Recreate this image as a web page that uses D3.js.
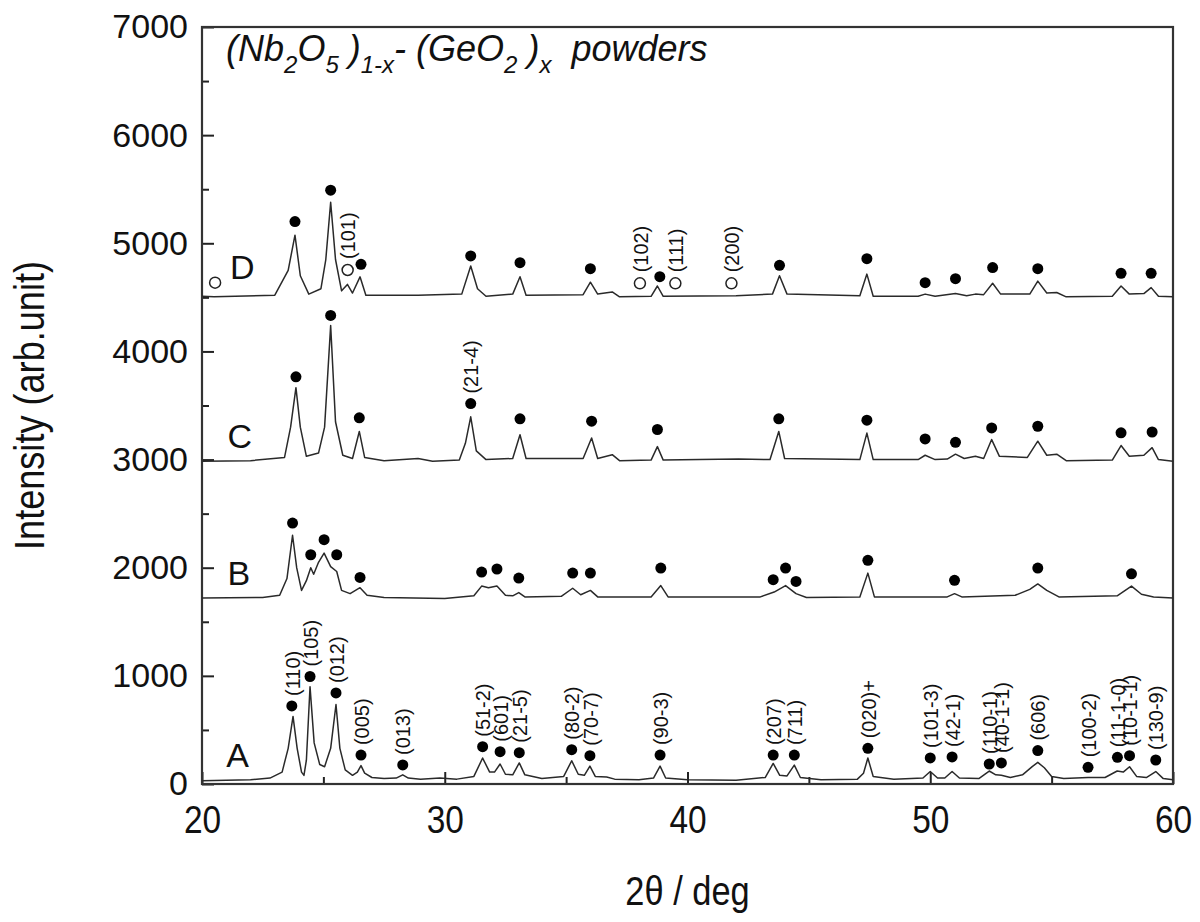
<!DOCTYPE html>
<html>
<head>
<meta charset="utf-8">
<script src="https://cdn.jsdelivr.net/npm/d3@7"></script>
<style>
  body { margin: 0; background: #fff; }
  text { font-family: "Liberation Sans", Arial, sans-serif; fill: #111; }
</style>
</head>
<body>
<div id="chart"></div>
<script>
// XRD traces, [2theta, intensity]
var traceA = [[20,30],[21,35],[22,40],[22.8,55],[23.3,110],[23.55,330],[23.75,625],[23.92,330],[24.1,110],[24.2,80],[24.3,220],[24.45,900],[24.62,380],[24.85,180],[25.05,160],[25.3,330],[25.52,735],[25.68,330],[25.9,130],[26.2,80],[26.4,110],[26.55,170],[26.7,100],[27,60],[27.5,50],[28,55],[28.27,85],[28.5,55],[29,45],[29.8,55],[30.5,45],[31.2,70],[31.56,240],[31.85,110],[32.05,110],[32.28,185],[32.5,90],[32.8,85],[33.07,195],[33.3,85],[34,50],[34.9,70],[35.23,215],[35.5,90],[35.75,80],[35.98,165],[36.2,70],[36.67,65],[37,45],[38,40],[38.6,55],[38.87,165],[39.1,55],[40,40],[42,35],[43.2,60],[43.53,190],[43.8,80],[44.1,75],[44.4,175],[44.65,60],[45.5,40],[47,45],[47.25,100],[47.43,240],[47.65,70],[48.5,45],[49.7,55],[50,115],[50.3,55],[50.6,55],[50.9,115],[51.2,55],[52,50],[52.43,120],[52.7,85],[52.93,80],[53.3,60],[53.8,85],[54.2,160],[54.43,200],[54.7,150],[55,70],[55.5,50],[56.5,60],[57.2,60],[57.7,120],[57.95,110],[58.21,160],[58.5,70],[58.9,60],[59.29,115],[59.6,50],[60,40]];

var traceB = [[20,1720],[22.5,1725],[23.2,1745],[23.5,1900],[23.73,2300],[23.9,2000],[24.1,1790],[24.3,1880],[24.48,2000],[24.6,1940],[24.8,2050],[25.03,2135],[25.3,2010],[25.55,1965],[25.75,1790],[26.1,1760],[26.51,1815],[26.8,1745],[27.5,1725],[30,1715],[31.2,1740],[31.52,1830],[31.8,1815],[32.15,1830],[32.5,1745],[32.8,1740],[33.05,1770],[33.3,1730],[34.8,1735],[35.27,1810],[35.6,1750],[36,1790],[36.3,1730],[38.5,1730],[38.9,1835],[39.2,1730],[43,1730],[43.57,1775],[44.04,1835],[44.47,1760],[44.9,1725],[47.1,1730],[47.43,1950],[47.7,1730],[50.7,1730],[51,1760],[51.3,1730],[53.5,1745],[54.1,1800],[54.43,1850],[54.8,1790],[55.3,1730],[57.7,1740],[58.29,1830],[58.7,1755],[59.2,1730],[60,1720]];

var traceC = [[20,2985],[22,2990],[23.4,3020],[23.65,3300],[23.87,3665],[24.05,3300],[24.3,3030],[24.8,3060],[25.05,3300],[25.3,4240],[25.5,3350],[25.8,3040],[26.2,3010],[26.48,3260],[26.7,3020],[27.5,2990],[28.9,3010],[29.5,2985],[30.6,2995],[30.85,3150],[31.07,3395],[31.3,3080],[31.7,3000],[32.8,3010],[33.1,3230],[33.35,3010],[35.7,3010],[36.05,3200],[36.3,3010],[36.9,3045],[37.2,2990],[38.5,2995],[38.76,3120],[39,2995],[40.5,3000],[42.1,3005],[43.4,3000],[43.76,3260],[44,3010],[47.1,3000],[47.39,3245],[47.65,3000],[49.5,3000],[49.79,3040],[50.2,3000],[50.7,3005],[51.04,3050],[51.4,3010],[51.86,3030],[52.2,3010],[52.53,3185],[52.85,3030],[54,3020],[54.43,3170],[54.8,3040],[55.21,3050],[55.6,2990],[57.5,2995],[57.86,3130],[58.2,3030],[58.8,3040],[59.14,3110],[59.4,3000],[60,2985]];

var traceD = [[20,4510],[20.5,4505],[23,4520],[23.55,4750],[23.83,5075],[24.05,4700],[24.4,4530],[24.9,4580],[25.1,4850],[25.3,5380],[25.5,4850],[25.75,4560],[25.99,4620],[26.2,4540],[26.51,4690],[26.75,4520],[28.9,4520],[30.7,4530],[31.07,4790],[31.35,4580],[31.7,4510],[32.8,4530],[33.1,4690],[33.35,4520],[35.7,4525],[36,4640],[36.3,4530],[36.9,4550],[37.2,4505],[38.5,4510],[38.76,4605],[39,4510],[42,4515],[43.5,4530],[43.79,4700],[44.1,4530],[47.1,4515],[47.39,4715],[47.65,4510],[49.5,4510],[49.79,4530],[50.2,4510],[51.04,4535],[51.5,4515],[51.86,4530],[52.2,4525],[52.57,4630],[52.9,4530],[54.1,4530],[54.43,4650],[54.8,4540],[55.21,4545],[55.6,4505],[57.5,4510],[57.86,4605],[58.2,4530],[58.8,4535],[59.1,4590],[59.4,4510],[60,4505]];

// phase markers
var dotsA = [[23.7,722],[24.45,994],[25.52,842],[26.55,268],[28.27,176],[31.56,345],[32.28,299],[33.07,290],[35.23,317],[35.98,262],[38.87,268],[43.53,268],[44.4,268],[47.43,330],[50.0,241],[50.9,250],[52.43,185],[52.93,195],[54.43,309],[56.5,154],[57.71,247],[58.21,262],[59.29,222]];
var hklA = ["(110)","(105)","(012)","(005)","(013)","(51-2)","(601)","(21-5)","(80-2)","(70-7)","(90-3)","(207)","(711)","(020)+","(101-3)","(42-1)","(110-1)","(40-1-1)","(606)","(100-2)","(11-1-0)","(10-1-1)","(130-9)"];
var dotsB = [[23.73,2413],[24.48,2120],[25.03,2259],[25.55,2120],[26.51,1910],[31.52,1960],[32.15,1988],[33.05,1904],[35.27,1950],[36.0,1950],[38.9,1997],[43.53,1889],[44.04,1997],[44.47,1873],[47.43,2068],[51.0,1883],[54.43,1997],[58.29,1944]];
var dotsC = [[23.87,3765],[25.3,4333],[26.48,3386],[31.07,3518],[33.1,3377],[36.05,3355],[38.76,3278],[43.76,3377],[47.39,3364],[49.79,3191],[51.04,3160],[52.53,3293],[54.43,3308],[57.86,3247],[59.14,3255]];
var hklC = ["","","","(21-4)","","","","","","","","","","",""];
var dotsD = [[23.83,5201],[25.3,5491],[26.55,4806],[31.07,4883],[33.1,4821],[36.0,4765],[38.86,4691],[43.79,4796],[47.39,4858],[49.79,4636],[51.04,4673],[52.57,4775],[54.43,4765],[57.86,4722],[59.1,4722]];
var openD = [[20.54,4636],[26.0,4753],[38.04,4630],[39.5,4630],[41.81,4630]];
var hklOpenD = ["","(101)","(102)","(111)","(200)"];

var sampleNames = ["A","B","C","D"];
var sampleAnchor = [[21.0,157],[21.05,1843],[21.05,3111],[21.15,4667]];

var xMajor = [20,30,40,50,60];
var xMinor = [25,35,45,55];
var yMajor = [0,1000,2000,3000,4000,5000,6000,7000];
var yMinor = [500,1500,2500,3500,4500,5500,6500];

var svgWidth = 1200;
var svgHeight = 922;
var margin = {top: 27, right: 27, bottom: 138, left: 202};
var chartWidth = svgWidth - margin.left - margin.right;
var chartHeight = svgHeight - margin.top - margin.bottom;

var svg = d3.select("#chart")
  .append("svg")
  .attr("width", svgWidth)
  .attr("height", svgHeight);

var chartGroup = svg.append("g")
  .attr("transform", `translate(${margin.left}, ${margin.top})`);

var x = d3.scaleLinear().domain([20, 60]).range([0, chartWidth]);
var y = d3.scaleLinear().domain([0, 7000]).range([chartHeight, 0]);

// axes, ticks pointing inward
var yAxis = chartGroup.append("g")
  .call(d3.axisLeft(y).tickValues(yMajor).tickFormat(d3.format("d"))
    .tickSizeInner(-12).tickSizeOuter(0).tickPadding(14));
chartGroup.append("g")
  .call(d3.axisLeft(y).tickValues(yMinor).tickSizeInner(-7).tickSizeOuter(0).tickFormat(""));
var xAxis = chartGroup.append("g")
  .attr("transform", `translate(0, ${chartHeight})`)
  .call(d3.axisBottom(x).tickValues(xMajor).tickSizeInner(-12).tickSizeOuter(0).tickPadding(22));
chartGroup.append("g")
  .attr("transform", `translate(0, ${chartHeight})`)
  .call(d3.axisBottom(x).tickValues(xMinor).tickSizeInner(-7).tickSizeOuter(0).tickFormat(""));

chartGroup.selectAll(".domain").remove();
chartGroup.selectAll(".tick line").attr("stroke", "#222").attr("stroke-width", 2);
yAxis.selectAll("text").attr("font-size", 34).attr("fill", "#111");
// the x tick numbers are narrow in the original
xAxis.selectAll("text").attr("font-size", 38).attr("fill", "#111")
  .attr("transform", "scale(0.88,1)");

chartGroup.append("rect")
  .attr("width", chartWidth)
  .attr("height", chartHeight)
  .attr("fill", "none")
  .attr("stroke", "#333")
  .attr("stroke-width", 2.2);

// traces
var line = d3.line().x(d => x(d[0])).y(d => y(d[1]));
[traceA, traceB, traceC, traceD].forEach(function(tr) {
  chartGroup.append("path")
    .datum(tr)
    .attr("d", line)
    .attr("fill", "none")
    .attr("stroke", "#2a2a2a")
    .attr("stroke-width", 1.5)
    .attr("stroke-linejoin", "round");
});

// markers
function addDots(pts, labels) {
  chartGroup.selectAll(null)
    .data(pts)
    .enter()
    .append("circle")
    .attr("cx", d => x(d[0]))
    .attr("cy", d => y(d[1]))
    .attr("r", 5.5)
    .attr("fill", "#000");
  if (labels) addHkl(pts, labels, 10);
}
function addHkl(pts, labels, gap) {
  chartGroup.selectAll(null)
    .data(pts)
    .enter()
    .append("text")
    .attr("transform", d => `translate(${x(d[0])}, ${y(d[1]) - gap}) rotate(-90) scale(0.95,1)`)
    .attr("dominant-baseline", "central")
    .attr("font-size", 21)
    .attr("fill", "#222")
    .text((d, i) => labels[i]);
}
addDots(dotsA, hklA);
addDots(dotsB);
addDots(dotsC, hklC);
addDots(dotsD);

chartGroup.selectAll(null)
  .data(openD)
  .enter()
  .append("circle")
  .attr("cx", d => x(d[0]))
  .attr("cy", d => y(d[1]))
  .attr("r", 5.5)
  .attr("fill", "#fff")
  .attr("stroke", "#222")
  .attr("stroke-width", 1.5);
addHkl(openD, hklOpenD, 11);

// sample letters
chartGroup.selectAll(null)
  .data(sampleNames)
  .enter()
  .append("text")
  .attr("x", (d, i) => x(sampleAnchor[i][0]))
  .attr("y", (d, i) => y(sampleAnchor[i][1]))
  .attr("font-size", 34)
  .text(d => d);

// title
var title = chartGroup.append("text")
  .attr("x", 24)
  .attr("y", 34)
  .attr("font-size", 36)
  .attr("font-style", "italic")
  .style("white-space", "pre");
var parts = [["(Nb",0],["2",1],["O",0],["5",1],[" )",0],["1-x",1],["- (GeO",0],["2",1],[" )",0],["x",1],["  powders",0]];
parts.forEach(function(p, i) {
  var prev = i > 0 ? parts[i - 1][1] : 0;
  title.append("tspan")
    .attr("dy", (p[1] - prev) * 12)
    .attr("font-size", p[1] ? 24 : 36)
    .text(p[0]);
});

// axis titles (the original lettering is narrow)
svg.append("text")
  .attr("transform", `translate(44, ${margin.top + chartHeight / 2}) rotate(-90) scale(0.86,1)`)
  .attr("text-anchor", "middle")
  .attr("font-size", 42)
  .text("Intensity (arb.unit)");

svg.append("text")
  .attr("transform", `translate(${margin.left + chartWidth / 2}, 905) scale(0.86,1)`)
  .attr("text-anchor", "middle")
  .attr("font-size", 40)
  .text("2\u03b8 / deg");
</script>
</body>
</html>
